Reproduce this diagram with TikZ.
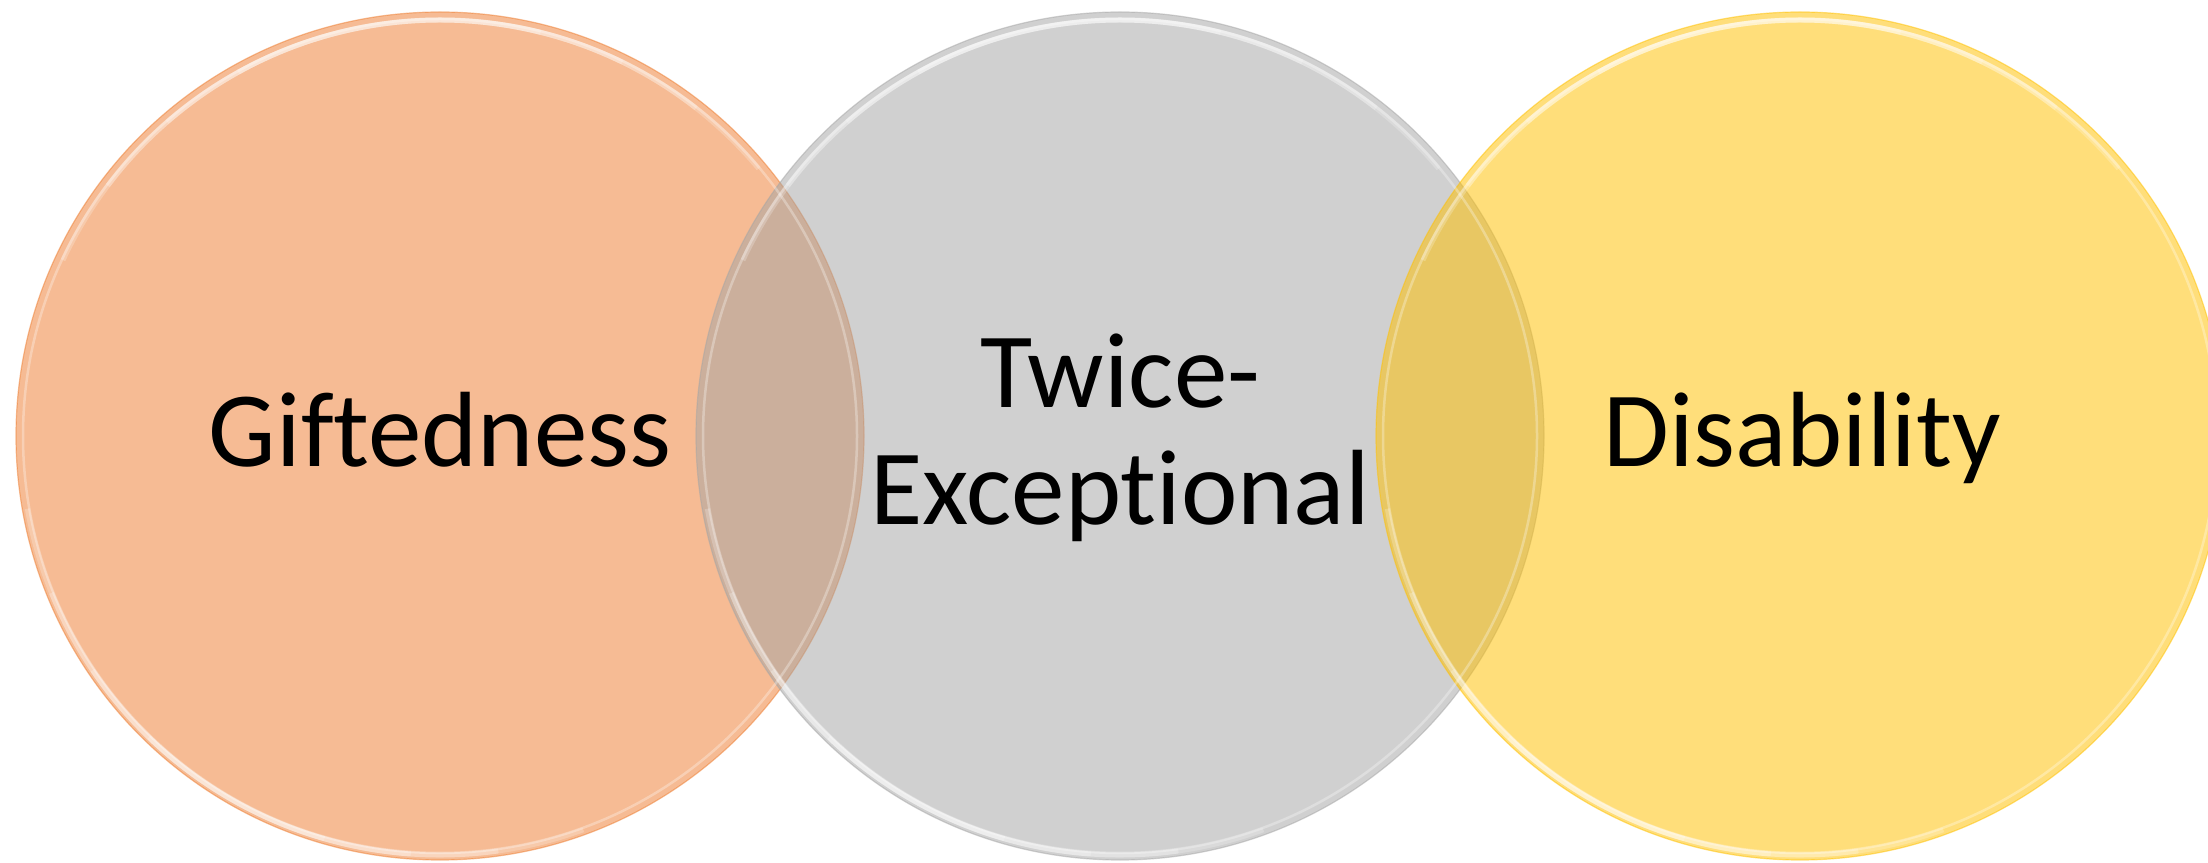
\documentclass[tikz,border=0pt]{standalone}
\usepackage{fontspec}
\setmainfont[Ligatures=NoCommon]{Carlito}
\definecolor{vorange}{HTML}{ED7D31}
\definecolor{vgrey}{HTML}{A5A5A5}
\definecolor{vgold}{HTML}{FFC000}
\begin{document}
\begin{tikzpicture}[x=1pt,y=1pt,
  disc/.style={circle, inner sep=0pt, minimum size=848pt, fill=#1, fill opacity=0.52,
               draw=#1, draw opacity=0.5, line width=1.2pt},
  rim/.style={white, line width=2.5pt, opacity=0.3},
  glint/.style={white, line width=5pt, opacity=0.22, line cap=butt},
  lbl/.style={font=\fontsize{107}{117}\selectfont, text=black, inner sep=0pt, anchor=base}]
\useasboundingbox (0,0) rectangle (2208,862);
\clip (0,0) rectangle (2208,862);

% the three overlapping discs
\node[disc=vorange] (gift) at (440,426) {};
\node[disc=vgrey]   (twice) at (1120,426) {};
\node[disc=vgold]   (dis) at (1800,426) {};

% bevel highlights along the rims, layered so that their ends fade out
\foreach \c in {gift,twice,dis}{
  \draw[rim] (\c.center) circle[radius=417];
  \foreach \d in {0,12,24,36}{
    \draw[glint] ([shift={(40+\d:416)}]\c.center)
      arc[start angle=40+\d, end angle=155-\d, radius=416];
    \draw[glint] ([shift={(190+\d:419)}]\c.center)
      arc[start angle=190+\d, end angle=290-\d, radius=419];
  }
}

% labels
\node[lbl] (giftlbl) at (440,395) {Giftedness};
\node[lbl] (twlbla) at (1120,454) {Twice-};
\node[lbl] (twlblb) at (1120,337) {Exceptional};
\node[lbl] (dislbl) at (1802,395) {Disability};
\end{tikzpicture}
\end{document}
